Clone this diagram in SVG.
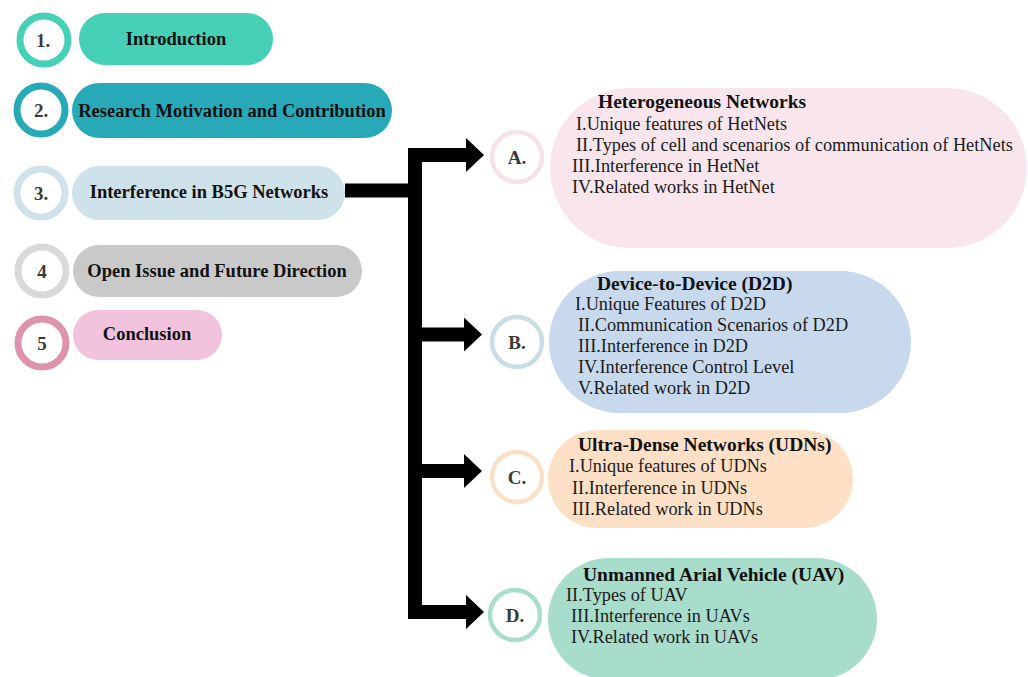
<svg xmlns="http://www.w3.org/2000/svg" width="1028" height="677" viewBox="0 0 1028 677">
<style>
text{font-family:"Liberation Serif","Times New Roman",serif;}
.num{font-size:19px;font-weight:bold;fill:#3a3a3a;text-anchor:middle;}
.lab{font-size:18.5px;font-weight:bold;fill:#111;text-anchor:middle;}
.ttl{font-size:19.5px;font-weight:bold;fill:#111;}
.itm{font-size:18.3px;fill:#1a1a1a;}
.ring{fill:#fff;stroke-width:7;}
.sring{fill:#fff;stroke-width:4.5;}
.bar{fill:none;stroke:#000;stroke-width:14;}
</style>
<defs>
<marker id="ah" markerUnits="userSpaceOnUse" markerWidth="20" markerHeight="36" refX="0" refY="17" orient="auto">
<path d="M0,0 L18,17 L0,34 Z" fill="#000"/>
</marker>
</defs>
<rect width="1028" height="677" fill="#fff"/>

<g id="n1">
<rect x="79" y="13" width="194" height="52" rx="26" fill="#46d0b5"/>
<circle cx="44" cy="40" r="24" class="ring" stroke="#46d0b5"/>
<text x="43" y="47" class="num">1.</text>
<text x="176" y="45" class="lab">Introduction</text>
</g>
<g id="n2">
<rect x="72" y="83" width="320" height="55" rx="27.5" fill="#28a9b8"/>
<circle cx="41" cy="110" r="24" class="ring" stroke="#28a9b8"/>
<text x="41" y="117" class="num">2.</text>
<text x="232" y="117" class="lab">Research Motivation and Contribution</text>
</g>
<g id="n3">
<rect x="72" y="166" width="273" height="54" rx="27" fill="#cfe1e9"/>
<circle cx="41" cy="193" r="24" class="ring" stroke="#cfe1e9"/>
<text x="41" y="200" class="num">3.</text>
<text x="209" y="198" class="lab">Interference in B5G Networks</text>
</g>
<g id="n4">
<rect x="73" y="245" width="289" height="52" rx="26" fill="#c9c9c9"/>
<circle cx="42" cy="271" r="24" class="ring" stroke="#d9d9d9"/>
<text x="42" y="278" class="num">4</text>
<text x="217" y="277" class="lab">Open Issue and Future Direction</text>
</g>
<g id="n5">
<rect x="73" y="310" width="149" height="50" rx="25" fill="#f1c3dd"/>
<circle cx="42" cy="343" r="24" class="ring" stroke="#dd94ab"/>
<text x="42" y="350" class="num">5</text>
<text x="147" y="340" class="lab">Conclusion</text>
</g>

<g id="connectors">
<path class="bar" d="M345,190.5 H415"/>
<path class="bar" d="M415,148 V619"/>
<path class="bar" d="M408,155 H466" marker-end="url(#ah)"/>
<path class="bar" d="M415,334.5 H464" marker-end="url(#ah)"/>
<path class="bar" d="M415,471 H464" marker-end="url(#ah)"/>
<path class="bar" d="M408,612 H466" marker-end="url(#ah)"/>
</g>

<g id="nA">
<rect x="550" y="88" width="477" height="160" rx="80" fill="#f8e6ec"/>
<circle cx="517" cy="157" r="25" class="sring" stroke="#f5e1e8"/>
<text x="517" y="164" class="num" fill="#444">A.</text>
<text x="598" y="108" class="ttl">Heterogeneous Networks</text>
<text x="576" y="130" class="itm">I.Unique features of HetNets</text>
<text x="576" y="151" class="itm">II.Types of cell and scenarios of communication of HetNets</text>
<text x="572" y="172" class="itm">III.Interference in HetNet</text>
<text x="572" y="193" class="itm">IV.Related works in HetNet</text>
</g>
<g id="nB">
<rect x="549" y="271" width="362" height="142" rx="71" fill="#c8d9ee"/>
<circle cx="517" cy="342" r="25" class="sring" stroke="#c9dde5"/>
<text x="517" y="349" class="num">B.</text>
<text x="597" y="290" class="ttl">Device-to-Device (D2D)</text>
<text x="575" y="310" class="itm">I.Unique Features of D2D</text>
<text x="578" y="331" class="itm">II.Communication Scenarios of D2D</text>
<text x="578" y="352" class="itm">III.Interference in D2D</text>
<text x="578" y="373" class="itm">IV.Interference Control Level</text>
<text x="578" y="394" class="itm">V.Related work in D2D</text>
</g>
<g id="nC">
<rect x="548" y="430" width="305" height="98" rx="49" fill="#fde0c6"/>
<circle cx="517" cy="477" r="25" class="sring" stroke="#fbe0c8"/>
<text x="517" y="484" class="num">C.</text>
<text x="578" y="451" class="ttl">Ultra-Dense Networks (UDNs)</text>
<text x="569" y="472" class="itm">I.Unique features of UDNs</text>
<text x="572" y="494" class="itm">II.Interference in UDNs</text>
<text x="572" y="515" class="itm">III.Related work in UDNs</text>
</g>
<g id="nD">
<rect x="548" y="558" width="329" height="122" rx="61" fill="#a8dccb"/>
<circle cx="515" cy="615" r="25" class="sring" stroke="#a8dccc"/>
<text x="515" y="622" class="num">D.</text>
<text x="583" y="581" class="ttl">Unmanned Arial Vehicle (UAV)</text>
<text x="566" y="601" class="itm">II.Types of UAV</text>
<text x="571" y="622" class="itm">III.Interference in UAVs</text>
<text x="571" y="643" class="itm">IV.Related work in UAVs</text>
</g>
</svg>
